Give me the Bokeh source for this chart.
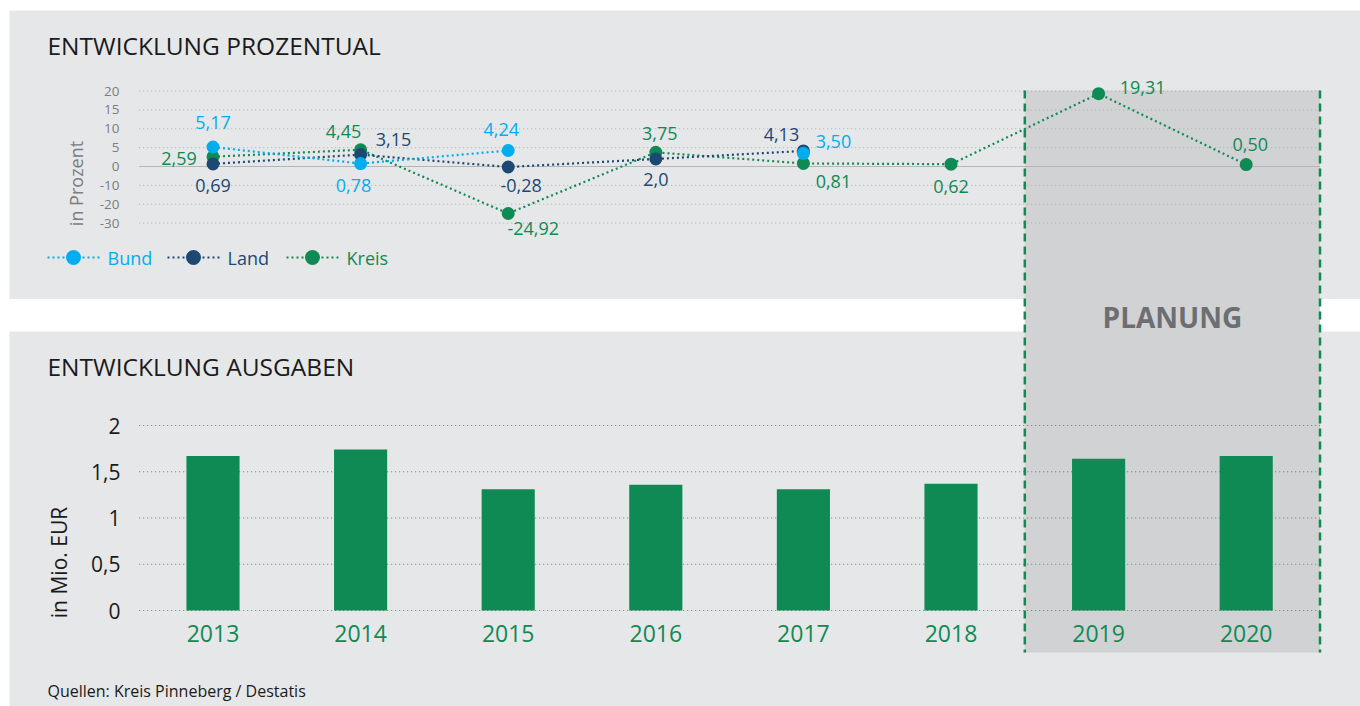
import math
from bokeh.plotting import figure
from bokeh.models import Range1d, ColumnDataSource
from bokeh.core.properties import value
from bokeh.embed import file_html
from bokeh.resources import INLINE

# ---------------- data ----------------
NaN = float("nan")
years = [2013, 2014, 2015, 2016, 2017, 2018, 2019, 2020]
year_labels = ["2013", "2014", "2015", "2016", "2017", "2018", "2019", "2020"]
planung_years = [2019, 2020]

bund = [5.17, 0.78, 4.24, NaN, 3.50, NaN, NaN, NaN]
land = [0.69, 3.15, -0.28, 2.0, 4.13, NaN, NaN, NaN]
kreis = [2.59, 4.45, -24.92, 3.75, 0.81, 0.62, 19.31, 0.50]
bund_labels = ["5,17", "0,78", "4,24", "", "3,50", "", "", ""]
land_labels = ["0,69", "3,15", "-0,28", "2,0", "4,13", "", "", ""]
kreis_labels = ["2,59", "4,45", "-24,92", "3,75", "0,81", "0,62", "19,31", "0,50"]

ausgaben = [1.67, 1.74, 1.31, 1.36, 1.31, 1.37, 1.64, 1.67]

pct_ticks = [20, 15, 10, 5, 0, -10, -20, -30]
pct_tick_labels = ["20", "15", "10", "5", "0", "-10", "-20", "-30"]
eur_ticks = [0, 0.5, 1, 1.5, 2]
eur_tick_labels = ["0", "0,5", "1", "1,5", "2"]

series_names = ["Bund", "Land", "Kreis"]

# ---------------- label placement (screen px offsets) ----------------
bund_dx = [0, -7, -7, 0, 30, 0, 0, 0]
bund_dy = [-25, 22, -21, 0, -12, 0, 0, 0]
land_dx = [0, 33, 13, 0, -22, 0, 0, 0]
land_dy = [22, -15, 18, 21, -16, 0, 0, 0]
kreis_dx = [-34, -17, 25, 4, 30, 0, 44, 4]
kreis_dy = [2, -18, 15, -19, 18, 22, -6, -20]

# ---------------- styles ----------------
FONT = "Open Sans"
PANEL = "#e6e7e8"
BAND = "#d1d2d4"
GREEN = "#108a54"
BUND_C = "#00aeef"
LAND_C = "#1d4873"
KREIS_C = "#108a54"
GREY_TXT = "#6d6e71"
DARK_TXT = "#1a1a1a"

# ---------------- layout (picture px) ----------------
W, H = 1360, 706
PX_L, PX_R, PX_T, PX_B = 0, 1360, 0, 706
YEAR_EDGE_PX = 138.7      # x of the left edge of the first category
YEAR_STEP_PX = 147.6
PCT_ZERO_PX, PCT_UNIT_PX = 166.0, 3.77
EUR_ZERO_PX, EUR_UNIT_PX = 610.0, 92.5

first_edge = years[0] - 0.5
last_edge = years[-1] + 0.5
x_range = Range1d(first_edge - (YEAR_EDGE_PX - PX_L) / YEAR_STEP_PX,
                  first_edge + (PX_R - YEAR_EDGE_PX) / YEAR_STEP_PX)


def pct_axis(v):
    # split scale of the original: 5 % per step above zero, 10 % per step below
    if v is None or (isinstance(v, float) and math.isnan(v)):
        return NaN
    return v if v >= 0 else v / 2.0


p = figure(width=W, height=H, x_range=x_range, y_range=Range1d(PX_B, PX_T),
           output_backend="svg", toolbar_location=None, min_border=0,
           x_axis_type=None, y_axis_type=None, outline_line_color=None,
           background_fill_color="white", border_fill_color="white")
p.extra_x_ranges = {"px": Range1d(PX_L, PX_R)}
p.extra_y_ranges = {
    "pct": Range1d((PCT_ZERO_PX - PX_B) / PCT_UNIT_PX, (PCT_ZERO_PX - PX_T) / PCT_UNIT_PX),
    "eur": Range1d((EUR_ZERO_PX - PX_B) / EUR_UNIT_PX, (EUR_ZERO_PX - PX_T) / EUR_UNIT_PX),
}

# panels
p.quad(left=[9, 9], right=[PX_R, PX_R], top=[10, 331], bottom=[298.5, PX_B],
       x_range_name="px", fill_color=PANEL, line_color=None)

# planning band
band_left = min(planung_years) - 0.5
band_right = max(planung_years) + 0.5
p.quad(left=[band_left], right=[band_right], top=[90], bottom=[652],
       fill_color=BAND, line_color=None)

# top grid
pct_t = [pct_axis(t) for t in pct_ticks]
grid_t = [t for t, raw in zip(pct_t, pct_ticks) if raw != 0]
p.segment(x0=[first_edge] * len(grid_t), x1=[last_edge] * len(grid_t), y0=grid_t, y1=grid_t,
          y_range_name="pct", line_color="#a9abae", line_width=1, line_dash="1 3")
p.segment(x0=[first_edge], x1=[last_edge], y0=[0], y1=[0], y_range_name="pct",
          line_color="#b3b5b8", line_width=1.2)

# bottom grid
p.segment(x0=[first_edge] * len(eur_ticks), x1=[last_edge] * len(eur_ticks),
          y0=eur_ticks, y1=eur_ticks, y_range_name="eur",
          line_color="#2c9a63", line_width=1.2, line_dash="1 3")

# bars
p.vbar(x=years, top=ausgaben, bottom=0, width=0.36, y_range_name="eur",
       fill_color=GREEN, line_color=None)

# planning dashed borders
p.segment(x0=[band_left, band_right], x1=[band_left, band_right], y0=[90, 90], y1=[652, 652],
          line_color=KREIS_C, line_width=2.5, line_dash="8 5")

# lines + points (Kreis bottom, Land, Bund top)
series = [
    ("Kreis", kreis, kreis_labels, kreis_dx, kreis_dy, KREIS_C),
    ("Land", land, land_labels, land_dx, land_dy, LAND_C),
    ("Bund", bund, bund_labels, bund_dx, bund_dy, BUND_C),
]
for name, vals, labs, dxs, dys, col in series:
    t = [pct_axis(v) for v in vals]
    p.line(years, t, y_range_name="pct", line_color=col, line_width=2.2, line_dash="2 3")
for name, vals, labs, dxs, dys, col in series:
    t = [pct_axis(v) for v in vals]
    p.scatter(years, t, y_range_name="pct", size=13, fill_color=col, line_color=None)

for name, vals, labs, dxs, dys, col in series:
    idx = [i for i, v in enumerate(vals) if not math.isnan(v)]
    src = ColumnDataSource(dict(
        x=[years[i] for i in idx], y=[pct_axis(vals[i]) for i in idx],
        text=[labs[i] for i in idx], dx=[dxs[i] for i in idx], dy=[dys[i] for i in idx]))
    p.text(x="x", y="y", text="text", x_offset="dx", y_offset="dy", source=src,
           y_range_name="pct", text_align="center", text_baseline="middle",
           text_font=value(FONT), text_font_size="18px", text_color=col)

# y tick labels (top)
p.text(x=[119] * len(pct_t), y=pct_t, text=pct_tick_labels, x_range_name="px", y_range_name="pct",
       text_align="right", text_baseline="middle", text_font=value(FONT),
       text_font_size="13.5px", text_color="#7b7d80")
# y tick labels (bottom)
p.text(x=[120] * len(eur_ticks), y=eur_ticks, text=eur_tick_labels, x_range_name="px",
       y_range_name="eur", text_align="right", text_baseline="middle", text_font=value(FONT),
       text_font_size="21px", text_color=DARK_TXT)
# x tick labels (bottom)
p.text(x=years, y=[633] * len(years), text=year_labels, text_align="center",
       text_baseline="middle", text_font=value(FONT), text_font_size="23px", text_color=KREIS_C)

# axis titles
p.text(x=[75], y=[183], text=["in Prozent"], x_range_name="px", angle=math.pi / 2,
       text_align="center", text_baseline="middle", text_font=value(FONT),
       text_font_size="18px", text_color="#7b7d80")
p.text(x=[58], y=[562], text=["in Mio. EUR"], x_range_name="px", angle=math.pi / 2,
       text_align="center", text_baseline="middle", text_font=value(FONT),
       text_font_size="21px", text_color=DARK_TXT)

# legend
leg_colors = [BUND_C, LAND_C, KREIS_C]
leg_x0 = [47, 167, 286]
for i, (nm, col) in enumerate(zip(series_names, leg_colors)):
    x0 = leg_x0[i]
    p.segment(x0=[x0], x1=[x0 + 52], y0=[257], y1=[257], x_range_name="px",
              line_color=col, line_width=2.2, line_dash="2 3")
    p.scatter(x=[x0 + 26], y=[257], x_range_name="px", size=15, fill_color=col, line_color=None)
    p.text(x=[x0 + 60], y=[257], text=[nm], x_range_name="px", text_align="left",
           text_baseline="middle", text_font=value(FONT), text_font_size="18px", text_color=col)

# titles & source
p.text(x=[47, 47], y=[45, 366], text=["ENTWICKLUNG PROZENTUAL", "ENTWICKLUNG AUSGABEN"],
       x_range_name="px", text_align="left", text_baseline="middle", text_font=value(FONT),
       text_font_size="24.5px", text_color=DARK_TXT)
p.text(x=[47], y=[690], text=["Quellen: Kreis Pinneberg / Destatis"], x_range_name="px",
       text_align="left", text_baseline="middle", text_font=value(FONT),
       text_font_size="16px", text_color=DARK_TXT)

# planning label
p.text(x=[(band_left + band_right) / 2], y=[316], text=["PLANUNG"], text_align="center",
       text_baseline="middle", text_font=value(FONT), text_font_size="28px",
       text_font_style="bold", text_color=GREY_TXT)

open("out.html", "w").write(file_html(p, INLINE))
